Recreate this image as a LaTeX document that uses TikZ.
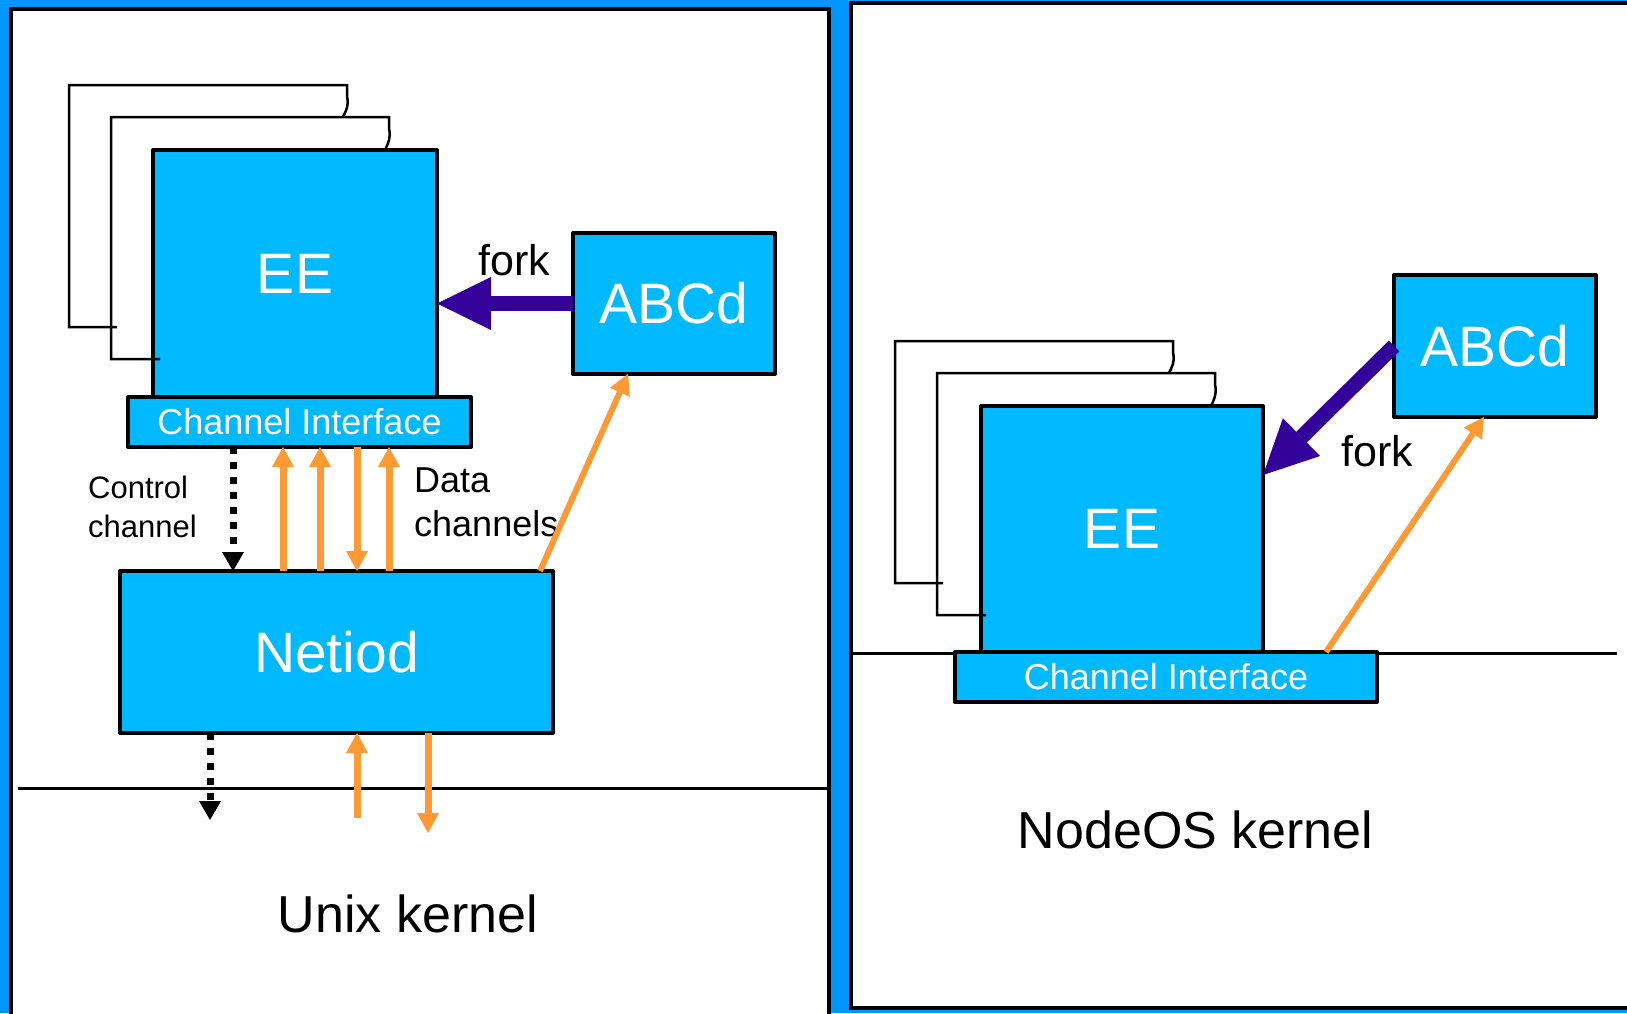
\documentclass[tikz,border=0pt]{standalone}
\usepackage{fontspec}
\setmainfont{Liberation Sans}
\usetikzlibrary{arrows.meta,calc}
\definecolor{panelblue}{RGB}{0,150,255}
\definecolor{boxcyan}{RGB}{0,185,255}
\definecolor{forkpurple}{RGB}{51,0,153}
\definecolor{pipeorange}{RGB}{255,153,51}

\begin{document}
\begin{tikzpicture}[x=1pt,y=-1pt,
  box/.style={draw,line width=4pt,line join=round,fill=boxcyan,text=white,inner sep=0pt,outer sep=0pt},
  big/.style={font=\fontsize{57}{60}\selectfont},
  chan/.style={font=\fontsize{36}{40}\selectfont},
  txt/.style 2 args={inner sep=0pt,font=\fontsize{#1}{#2}\selectfont},
  panel/.style={draw,line width=4pt,fill=white},
  stack/.style={line width=2.5pt},
  kernel/.style={line width=3pt},
  fork/.style={forkpurple,line width=15pt,-{Triangle[length=54pt,width=53pt,line width=0pt]}},
  pipe/.style={pipeorange,line width=7pt,>={Triangle[length=20pt,width=22pt,line width=0pt]}},
  ctrl/.style={line width=7pt,dash pattern=on 7pt off 8pt,-{Triangle[length=19pt,width=22pt,line width=0pt]}}]
\useasboundingbox (0,0) rectangle (1627,1013);
\fill[panelblue] (0,0) rectangle (1627,1013);
\draw[panel] (11,9) rectangle (829,1030);
\draw[panel] (851,3) rectangle (1640,1008);
\draw[kernel] (18,788) -- (829,788);
\draw[kernel] (849,653) -- (1617,653);

\node[box,big,minimum width=284pt,minimum height=247pt] (ee1) at (295,273.5) {EE};
\node[box,big,minimum width=282pt,minimum height=246pt] (ee2) at (1122,529) {EE};
\foreach \sx/\sy in {0/0,826/256}
{
  \draw[stack,shift={(\sx,\sy)}] (117,327) -- (69,327) -- (69,85) -- (347,85) -- (347,96) .. controls (349,106) and (346,111) .. (343,117);
  \draw[stack,shift={(\sx,\sy)}] (160,359) -- (111,359) -- (111,117) -- (389,117) -- (389,128) .. controls (391,138) and (388,144) .. (385,150);
}
\node[box,chan,minimum width=343pt,minimum height=50pt] (ci1) at (299.5,422) {Channel Interface};
\node[box,chan,minimum width=422pt,minimum height=50pt] (ci2) at (1166,677) {Channel Interface};
\node[box,big,minimum width=433pt,minimum height=162pt] (netiod) at (336.5,652) {Netiod};
\node[box,big,minimum width=202pt,minimum height=141pt] (abcd1) at (674,303.5) {ABCd};
\node[box,big,minimum width=202pt,minimum height=142pt] (abcd2) at (1495,346) {ABCd};

\node[txt={31}{39},align=left,anchor=west] (ctrltext) at (88,507) {Control\\channel};
\node[txt={36}{44},align=left,anchor=west] (datatext) at (414,502) {Data\\channels};
\node[txt={43}{50},anchor=base] (fork1) at (514.5,275) {fork};
\node[txt={43}{50},anchor=base] (fork2) at (1377,466) {fork};
\node[txt={52}{60},anchor=base] (unix) at (408,932) {Unix kernel};
\node[txt={52}{60},anchor=base] (nodeos) at (1195.5,848) {NodeOS kernel};

\draw[fork] (abcd1.west) -- (abcd1.west -| ee1.east);
\draw[fork] (abcd2.west) -- ([yshift=54pt]ee2.east);

\draw[ctrl] ($(ci1.south west)+(105,0)$) coordinate (c) -- (c |- netiod.north);
\foreach \dx in {163,200,269}
  \draw[pipe,->] ($(netiod.north west)+(\dx,0)$) coordinate (s) -- (s |- ci1.south);
\draw[pipe,<-] ($(netiod.north west)+(237,0)$) coordinate (s) -- (s |- ci1.south);

\coordinate (ctrlout) at (210,820);
\coordinate (datain) at (357,818);
\coordinate (dataout) at (428,833);
\draw[ctrl] (ctrlout |- netiod.south) -- (ctrlout);
\draw[pipe,->] (datain) -- (datain |- netiod.south);
\draw[pipe,->] (dataout |- netiod.south) -- (dataout);

\draw[pipe,line width=6pt,->] ([xshift=-13pt]netiod.north east) -- ([xshift=-46pt]abcd1.south);
\draw[pipe,line width=6pt,->] ([xshift=-51pt]ci2.north east) -- ([xshift=-11pt]abcd2.south);
\end{tikzpicture}
\end{document}
